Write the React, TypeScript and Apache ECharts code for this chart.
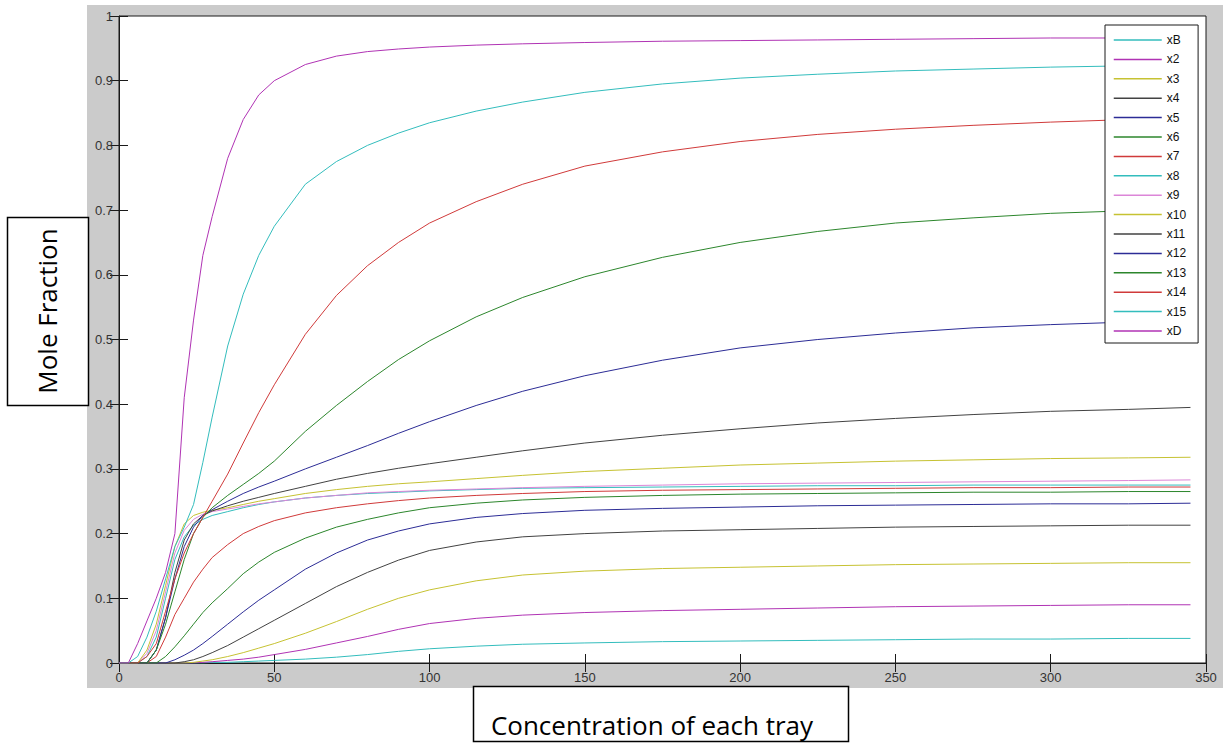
import React, { useEffect, useRef } from "react";
import * as echarts from "echarts";

// Shared x positions (tray concentration axis)
const xValues = [0, 3, 6, 9, 12, 15, 18, 21, 24, 27, 30, 35, 40, 45, 50, 60, 70, 80, 90, 100, 115, 130, 150, 175, 200, 225, 250, 275, 300, 325, 345];

const seriesNames = ["xB", "x2", "x3", "x4", "x5", "x6", "x7", "x8", "x9", "x10", "x11", "x12", "x13", "x14", "x15", "xD"];

const xB = [0, 0, 0, 0, 0, 0, 0, 0, 0, 0, 0.001, 0.001, 0.002, 0.003, 0.004, 0.006, 0.009, 0.013, 0.018, 0.022, 0.026, 0.029, 0.031, 0.033, 0.034, 0.035, 0.036, 0.037, 0.037, 0.038, 0.038];
const x2 = [0, 0, 0, 0, 0, 0, 0, 0, 0, 0.001, 0.002, 0.004, 0.006, 0.009, 0.013, 0.021, 0.031, 0.041, 0.052, 0.061, 0.069, 0.074, 0.078, 0.081, 0.083, 0.085, 0.087, 0.088, 0.089, 0.09, 0.09];
const x3 = [0, 0, 0, 0, 0, 0, 0, 0, 0.001, 0.003, 0.005, 0.01, 0.016, 0.023, 0.03, 0.046, 0.064, 0.083, 0.1, 0.113, 0.127, 0.136, 0.142, 0.146, 0.148, 0.15, 0.152, 0.153, 0.154, 0.155, 0.155];
const x4 = [0, 0, 0, 0, 0, 0, 0, 0.002, 0.005, 0.01, 0.016, 0.027, 0.04, 0.053, 0.066, 0.092, 0.118, 0.14, 0.159, 0.174, 0.187, 0.195, 0.2, 0.204, 0.206, 0.208, 0.21, 0.211, 0.212, 0.213, 0.213];
const x5 = [0, 0, 0, 0, 0, 0, 0.005, 0.012, 0.02, 0.03, 0.041, 0.06, 0.079, 0.097, 0.113, 0.145, 0.17, 0.19, 0.204, 0.215, 0.225, 0.231, 0.236, 0.239, 0.241, 0.243, 0.244, 0.245, 0.246, 0.246, 0.247];
const x6 = [0, 0, 0, 0, 0, 0.01, 0.025, 0.042, 0.06, 0.078, 0.093, 0.115, 0.138, 0.156, 0.171, 0.193, 0.21, 0.222, 0.232, 0.24, 0.247, 0.252, 0.256, 0.259, 0.261, 0.262, 0.263, 0.264, 0.264, 0.265, 0.265];
const x7 = [0, 0, 0, 0, 0.01, 0.04, 0.075, 0.1, 0.125, 0.145, 0.163, 0.183, 0.2, 0.211, 0.22, 0.232, 0.24, 0.246, 0.251, 0.255, 0.259, 0.262, 0.265, 0.267, 0.268, 0.269, 0.27, 0.271, 0.271, 0.272, 0.272];
const x8 = [0, 0, 0, 0.01, 0.04, 0.1, 0.16, 0.195, 0.213, 0.222, 0.228, 0.234, 0.24, 0.245, 0.249, 0.255, 0.259, 0.262, 0.264, 0.266, 0.268, 0.27, 0.271, 0.272, 0.273, 0.274, 0.274, 0.275, 0.275, 0.275, 0.275];
const x9 = [0, 0, 0, 0.015, 0.05, 0.11, 0.17, 0.205, 0.222, 0.23, 0.234, 0.238, 0.242, 0.246, 0.249, 0.255, 0.259, 0.263, 0.265, 0.267, 0.269, 0.271, 0.273, 0.275, 0.277, 0.278, 0.279, 0.28, 0.281, 0.282, 0.283];
const x10 = [0, 0, 0, 0.02, 0.06, 0.12, 0.18, 0.215, 0.228, 0.233, 0.236, 0.24, 0.245, 0.25, 0.254, 0.262, 0.268, 0.273, 0.277, 0.28, 0.285, 0.29, 0.296, 0.301, 0.306, 0.309, 0.312, 0.314, 0.316, 0.317, 0.318];
const x11 = [0, 0, 0, 0, 0.02, 0.07, 0.14, 0.19, 0.215, 0.228, 0.235, 0.243, 0.25, 0.256, 0.262, 0.273, 0.284, 0.293, 0.301, 0.308, 0.318, 0.328, 0.34, 0.352, 0.362, 0.371, 0.378, 0.384, 0.389, 0.392, 0.395];
const x12 = [0, 0, 0, 0, 0.02, 0.07, 0.13, 0.18, 0.21, 0.228, 0.237, 0.25, 0.262, 0.272, 0.281, 0.3, 0.318, 0.336, 0.355, 0.373, 0.398, 0.42, 0.444, 0.468, 0.487, 0.5, 0.51, 0.518, 0.523, 0.527, 0.53];
const x13 = [0, 0, 0, 0, 0.02, 0.06, 0.11, 0.16, 0.2, 0.225, 0.24, 0.259, 0.276, 0.293, 0.312, 0.358, 0.398, 0.435, 0.469, 0.498, 0.535, 0.565, 0.597, 0.627, 0.65, 0.667, 0.68, 0.688, 0.695, 0.699, 0.702];
const x14 = [0, 0, 0, 0.01, 0.03, 0.08, 0.13, 0.17, 0.2, 0.225, 0.25, 0.292, 0.34, 0.387, 0.43, 0.508, 0.568, 0.614, 0.65, 0.68, 0.713, 0.74, 0.768, 0.79, 0.806, 0.817, 0.825, 0.831, 0.836, 0.84, 0.843];
const x15 = [0, 0, 0.01, 0.04, 0.08, 0.13, 0.18, 0.21, 0.245, 0.31, 0.38, 0.49, 0.57, 0.63, 0.675, 0.74, 0.775, 0.8, 0.819, 0.835, 0.853, 0.867, 0.882, 0.895, 0.904, 0.91, 0.915, 0.918, 0.921, 0.923, 0.925];
const xD = [0, 0, 0.03, 0.065, 0.1, 0.14, 0.2, 0.41, 0.53, 0.63, 0.69, 0.78, 0.84, 0.878, 0.9, 0.925, 0.938, 0.945, 0.949, 0.952, 0.955, 0.957, 0.959, 0.961, 0.962, 0.963, 0.964, 0.965, 0.966, 0.966, 0.967];

const seriesValues = [xB, x2, x3, x4, x5, x6, x7, x8, x9, x10, x11, x12, x13, x14, x15, xD];

const CYAN = "#33bdbd";
const MAGENTA = "#b033b4";
const YELLOW = "#c6c232";
const GRAY = "#424242";
const BLUE = "#2c2c96";
const GREEN = "#2c862c";
const RED = "#d03a3a";
const PINK = "#dc86d8";
const seriesColors = [CYAN, MAGENTA, YELLOW, GRAY, BLUE, GREEN, RED, CYAN, PINK, YELLOW, GRAY, BLUE, GREEN, RED, CYAN, MAGENTA];

const xTitle = "Concentration of each tray";
const yTitle = "Mole Fraction";

export default function App() {
  const ref = useRef<HTMLDivElement>(null);

  useEffect(() => {
    if (!ref.current) return;
    const chart = echarts.init(ref.current, null, { renderer: "svg" });

    const tickLabel = { color: "#333", fontFamily: "Liberation Sans, Arial, sans-serif", fontSize: 13 };

    const series = seriesNames.map((name, i) => ({
      name,
      type: "line",
      data: xValues.map((x, j) => [x, seriesValues[i][j]]),
      showSymbol: false,
      symbol: "none",
      smooth: false,
      color: seriesColors[i],
      lineStyle: { width: 1, color: seriesColors[i] },
      xAxisIndex: 0,
      yAxisIndex: 0,
    }));

    chart.setOption({
      animation: false,
      backgroundColor: "#ffffff",
      grid: {
        left: 119,
        top: 16,
        right: 17,
        bottom: 80,
        show: true,
        backgroundColor: "#ffffff",
        borderColor: "#1a1a1a",
        borderWidth: 1,
        containLabel: false,
      },
      graphic: [
        {
          type: "rect",
          z: -10,
          silent: true,
          shape: { x: 87, y: 5, width: 1136, height: 683 },
          style: { fill: "#cbcbcb" },
        },
        {
          type: "rect",
          z: 100,
          shape: { x: 7.5, y: 217.5, width: 81, height: 188 },
          style: { fill: "#ffffff", stroke: "#000000", lineWidth: 1.5 },
        },
        {
          type: "text",
          z: 101,
          x: 47,
          y: 311,
          rotation: Math.PI / 2,
          style: {
            text: yTitle,
            fill: "#000000",
            font: "26px 'Open Sans', Lato, sans-serif",
            align: "center",
            verticalAlign: "middle",
          },
        },
        {
          type: "rect",
          z: 100,
          shape: { x: 473.5, y: 686.5, width: 375, height: 55 },
          style: { fill: "#ffffff", stroke: "#000000", lineWidth: 1.5 },
        },
        {
          type: "text",
          z: 101,
          x: 652,
          y: 725,
          style: {
            text: xTitle,
            fill: "#000000",
            font: "26px 'Open Sans', Lato, sans-serif",
            align: "center",
            verticalAlign: "middle",
          },
        },
      ],
      legend: {
        data: seriesNames,
        orient: "vertical",
        left: 1105,
        top: 25,
        padding: [9, 12, 6, 8],
        itemWidth: 48,
        itemHeight: 14,
        itemGap: 7.4,
        backgroundColor: "#ffffff",
        borderColor: "#1a1a1a",
        borderWidth: 1,
        borderRadius: 0,
        itemStyle: { opacity: 0 },
        lineStyle: { width: 1.5 },
        textStyle: { color: "#111", fontFamily: "Liberation Sans, Arial, sans-serif", fontSize: 12 },
        selectedMode: false,
      },
      xAxis: [
        {
          type: "value",
          position: "bottom",
          min: 0,
          max: 350,
          interval: 50,
          splitLine: { show: false },
          axisLine: { show: true, onZero: false, lineStyle: { color: "#1a1a1a" } },
          axisTick: { show: true, inside: true, length: 9, lineStyle: { color: "#1a1a1a" } },
          axisLabel: { ...tickLabel, margin: 8 },
        },
        {
          type: "value",
          position: "top",
          min: 0,
          max: 350,
          interval: 50,
          splitLine: { show: false },
          axisLine: { show: false },
          axisTick: { show: true, inside: true, length: 9, lineStyle: { color: "#1a1a1a" } },
          axisLabel: { show: false },
        },
      ],
      yAxis: [
        {
          type: "value",
          position: "left",
          min: 0,
          max: 1,
          interval: 0.1,
          splitLine: { show: false },
          axisLine: { show: true, onZero: false, lineStyle: { color: "#1a1a1a" } },
          axisTick: { show: true, inside: true, length: 9, lineStyle: { color: "#1a1a1a" } },
          axisLabel: {
            ...tickLabel,
            margin: 6,
            formatter: (v: number) => (v === 0 || v === 1 ? String(v) : v.toFixed(1)),
          },
        },
        {
          type: "value",
          position: "right",
          min: 0,
          max: 1,
          interval: 0.1,
          splitLine: { show: false },
          axisLine: { show: false },
          axisTick: { show: true, inside: true, length: 9, lineStyle: { color: "#1a1a1a" } },
          axisLabel: { show: false },
        },
      ],
      series,
    });

    return () => {
      chart.dispose();
    };
  }, []);

  return (
    <div
      ref={ref}
      style={{ position: "fixed", left: 0, top: 0, width: 1223, height: 743 }}
    />
  );
}
